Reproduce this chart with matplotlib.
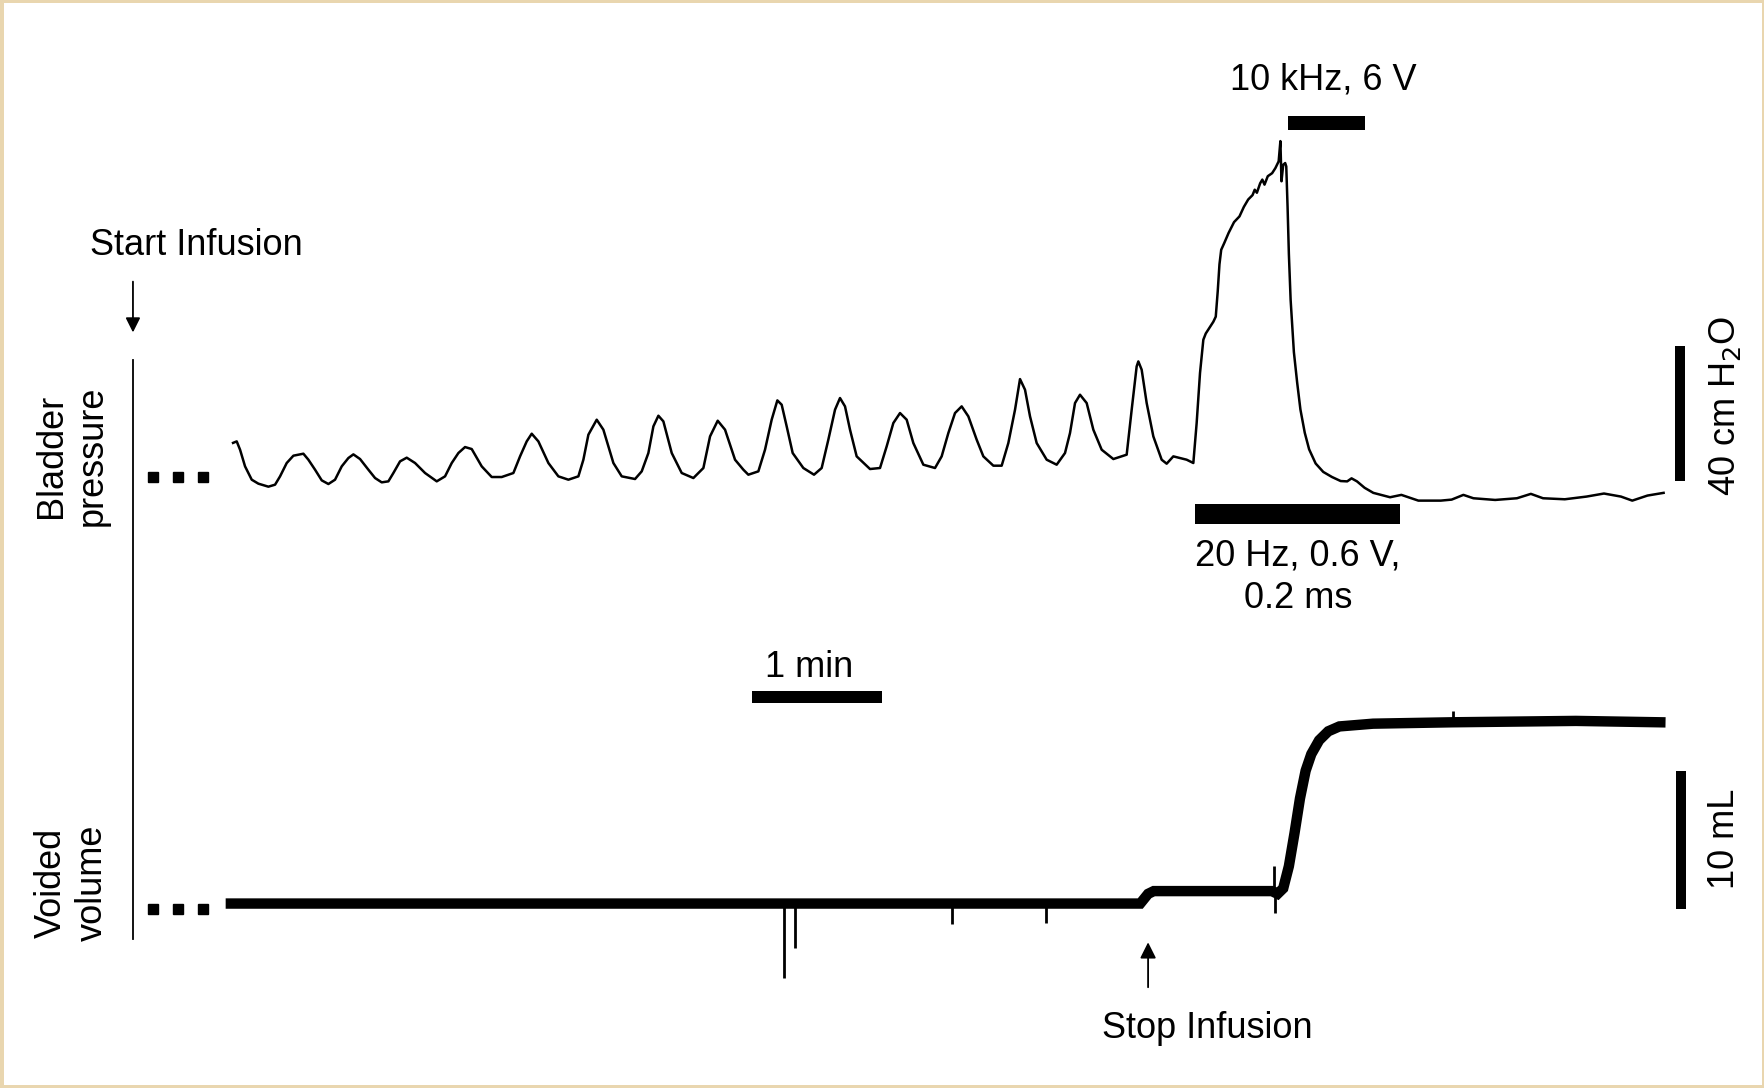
import matplotlib.pyplot as plt
from matplotlib.patches import Rectangle

plt.rcParams['font.family'] = ['Liberation Sans', 'DejaVu Sans']

# bladder pressure trace (time s, pressure cm H2O relative to baseline)
p_time = [0, 1.68, 3.22, 5.51, 8.58, 11.64, 16.24, 19.30, 21.60, 24.66, 27.73, 32.32, 34.62,
          37.68, 40.75, 43.81, 46.87, 49.94, 53.00, 55.30, 58.36, 62.19, 65.26, 68.32, 71.38,
          73.68, 76.74, 79.81, 83.64, 88.23, 93.60, 97.42, 100.49, 103.55, 106.61, 109.68,
          114.27, 118.87, 123.46, 128.83, 131.89, 134.95, 137.25, 140.31, 144.91, 149.50,
          154.10, 158.69, 160.99, 163.29, 167.12, 170.18, 174.78, 178.61, 184.73, 187.80,
          190.86, 193.16, 195.46, 197.75, 201.59, 206.18, 211.54, 216.14, 219.20, 222.72,
          226.09, 230.68, 234.51,
          236.80, 241.40, 244.46, 247.52, 250.13, 252.12, 254.42, 257.17, 262.07, 266.98,
          270.50, 273.56, 276.63, 278.92, 281.22, 283.52, 286.58, 292.71, 297.31, 300.37,
          303.43, 306.50, 309.56, 312.62, 317.22, 322.58, 325.64, 328.71, 331.77, 334.83,
          337.90, 341.73, 344.79, 349.39, 353.22, 356.28, 359.35, 361.64, 363.94, 366.24,
          369.30, 373.90, 378.49, 382.32, 384.62, 386.92, 389.21, 392.28, 395.34, 399.17,
          404.53, 410.66, 412.96, 415.25, 416.02, 417.55, 419.85, 422.91, 426.74, 429.04,
          432.10, 438.23, 441.29, 442.82, 444.36, 445.89,
          447.0, 448.5, 450.5, 451.6, 452.5, 453.3, 454.1, 455.5, 457.5, 460.0, 462.5, 464.5,
          466.5, 468.5, 469.5, 470.5, 472.0, 473.0, 474.0, 475.5, 477.5, 479.0, 480.5, 481.3,
          481.8, 482.6, 483.5, 484.0, 484.6, 485.2, 486.0, 487.5, 489.0, 490.5, 492.5, 494.5,
          497.5, 501.0, 505.0, 509.0, 512.0, 514.0, 516.5, 520.0, 524.0,
          531.7, 536.9, 544.7, 555.0, 560.0, 565.4, 570.0, 580.0, 590.0, 596.4, 602.0, 612.0,
          622.0, 630.0, 637.8, 643.0, 650.0, 657.4]
p_value = [10.1, 10.55, 8.08, 3.15, -0.80, -1.98, -2.87, -2.28, 0.19, 4.14, 6.31, 6.90, 5.12,
           2.16, -1.00, -2.08, -0.80, 3.15, 5.62, 6.70, 5.32, 2.16, -0.31, -1.59, -1.29,
           1.18, 4.63, 5.72, 4.14, 1.18, -1.29, 0.19, 4.14, 7.10, 8.87, 8.28,
           3.15, -0.01, -0.01, 1.18, 6.11, 10.55, 12.82, 10.55, 4.14, 0.19,
           -0.80, 0.19, 5.12, 12.53, 16.97, 14.01, 4.14, 0.19, -0.60, 1.67,
           7.10, 14.99, 18.15, 16.48, 7.10, 1.18, -0.31, 2.66, 12.03, 16.67,
           14.01, 5.12, 2.16,
           0.68, 1.67, 8.08, 16.97, 22.69, 21.41, 14.99, 7.10, 2.66, 0.68,
           2.66, 11.05, 19.93, 23.39, 20.92, 14.01, 6.11, 2.36, 2.66, 9.07,
           15.98, 18.94, 16.97, 10.06, 3.64, 2.66, 6.11, 13.02, 18.94, 20.92,
           17.96, 11.05, 6.11, 3.35, 3.35, 10.06, 19.93, 29.01, 25.85, 17.96,
           10.06, 5.12, 3.64, 7.10, 13.02, 21.90, 24.37, 21.90, 14.01, 8.08,
           5.32, 6.61, 19.93, 32.76, 34.24, 31.78, 21.90, 12.03, 5.12, 3.94,
           6.11, 5.12, 4.14, 15.98, 30.79, 40.66,
           42.5, 44.0, 46.0, 47.5, 55.0, 63.0, 67.3, 69.3, 72.3, 75.5, 77.2, 80.0,
           82.2, 83.5, 85.1, 84.2, 87.0, 88.1, 86.6, 89.1, 90.0, 91.5, 93.5, 99.5,
           87.6, 92.5, 93.0, 92.0, 80.0, 66.0, 52.5, 37.0, 28.0, 20.0, 13.1, 8.2,
           4.0, 1.5, 0.0, -1.2, -1.3, -0.4, -1.3, -3.2, -4.7,
           -6.0, -5.3, -7.0, -7.0, -6.7, -5.3, -6.3, -6.8, -6.3, -5.0, -6.3, -6.6,
           -5.8, -4.9, -5.8, -7.0, -5.5, -4.7]

# voided volume trace (time s, volume mL)
v_time = [-1.0, 416.9, 420.5, 423.1, 477.4, 480.0, 482.6, 485.2, 487.8, 490.3, 492.9, 495.5,
          499.1, 503.3, 508.4, 523.9, 560.2, 617.1, 655.9]
v_value = [0.4, 0.4, 1.1, 1.3, 1.3, 1.1, 1.5, 3.1, 5.5, 8.0, 10.0, 11.2,
           12.2, 12.85, 13.2, 13.4, 13.5, 13.6, 13.5]

# artefact spikes on the volume trace (time s, spike tip mL)
spike_time = [253.4, 258.1, 330.5, 373.4, 478.4, 479.0, 560.7]
spike_base = [0.4, 0.4, 0.4, 0.4, 1.3, 1.3, 13.5]
spike_tip = [-5.0, -2.8, -1.1, -1.0, 3.1, -0.3, 14.3]

# stimulation periods (start s, duration s)
stim_20hz = (442.2, 94.2)
stim_10khz = (484.7, 35.6)

# scale bars
time_bar = (238.4, 60.0)
pressure_bar = 40
volume_bar = 10

fig = plt.figure(figsize=(17.65, 10.88), dpi=100)
fig.patch.set_facecolor('#E9D6AF')
fig.patches.append(Rectangle((4 / 1765, 3 / 1088), 1 - 7 / 1765, 1 - 6 / 1088, zorder=-1,
                             transform=fig.transFigure, facecolor='white', edgecolor='none'))

ax_p = fig.add_axes([0, 0, 1, 1])
ax_v = fig.add_axes([0, 0, 1, 1])
for ax in (ax_p, ax_v):
    ax.set_facecolor('none')
    ax.axis('off')
    ax.set_xlim(-107.1, 704.0)
ax_p.set_ylim(-181.0, 141.3)
ax_v.set_ylim(-12.93, 65.7)

# traces
ax_p.plot(p_time, p_value, color='black', lw=1.8)
ax_v.plot(v_time, v_value, color='black', lw=7.5, solid_joinstyle='miter')
ax_v.vlines(spike_time, spike_base, spike_tip, color='black', lw=2)

# break markers
ax_p.plot([-36.7, -25.3, -14.0], [0, 0, 0], 's', color='black', ms=7)
ax_v.plot([-36.7, -25.3, -14.0], [0, 0, 0], 's', color='black', ms=7)

# vertical line on the left
ax_p.plot([-46.0, -46.0], [34.7, -137.0], color='black', lw=1.3)

# stimulation bars
ax_p.broken_barh([stim_20hz], (-14.0, 6.0), facecolor='black')
ax_p.broken_barh([stim_10khz], (102.7, 4.3), facecolor='black')
ax_p.text(stim_10khz[0] + stim_10khz[1] / 2 - 1.5, 117.7, '10 kHz, 6 V', fontsize=26,
          ha='center', va='center')
ax_p.text(stim_20hz[0] + stim_20hz[1] / 2, -29.7, '20 Hz, 0.6 V,\n0.2 ms', fontsize=26,
          ha='center', va='center', linespacing=1.25)

# time scale bar
ax_p.broken_barh([time_bar], (-67.0, 3.7), facecolor='black')
ax_p.text(time_bar[0] + time_bar[1] / 2 - 3.6, -56.3, '1 min', fontsize=26, ha='center',
          va='center')

# amplitude scale bars
ax_p.broken_barh([(662.6, 4.6)], (-1.3, pressure_bar), facecolor='black')
ax_p.text(685.4, 21.0, '40 cm H$_2$O', fontsize=26, rotation=90, ha='center', va='center')
ax_v.broken_barh([(663.1, 4.6)], (0, volume_bar), facecolor='black')
ax_v.text(685.4, 5.1, '10 mL', fontsize=26, rotation=90, ha='center', va='center')

# row labels
ax_p.text(-74.0, 6.3, 'Bladder\npressure', fontsize=26, rotation=90, ha='center', va='center',
          linespacing=1.2)
ax_v.text(-74.0, 1.9, 'Voided\nvolume', fontsize=26, rotation=90, ha='center', va='center',
          linespacing=1.2)

# infusion markers
ax_p.annotate('', xy=(-46.0, 42.0), xytext=(-46.0, 58.7),
              arrowprops=dict(arrowstyle='-|>', color='black', lw=1.3, mutation_scale=22))
ax_p.text(-65.7, 68.7, 'Start Infusion', fontsize=26, ha='left', va='center')
ax_v.annotate('', xy=(420.5, -2.2), xytext=(420.5, -5.85),
              arrowprops=dict(arrowstyle='-|>', color='black', lw=1.3, mutation_scale=24))
ax_v.text(447.9, -8.6, 'Stop Infusion', fontsize=26, ha='center', va='center')

fig.savefig('out.png', dpi=100)
